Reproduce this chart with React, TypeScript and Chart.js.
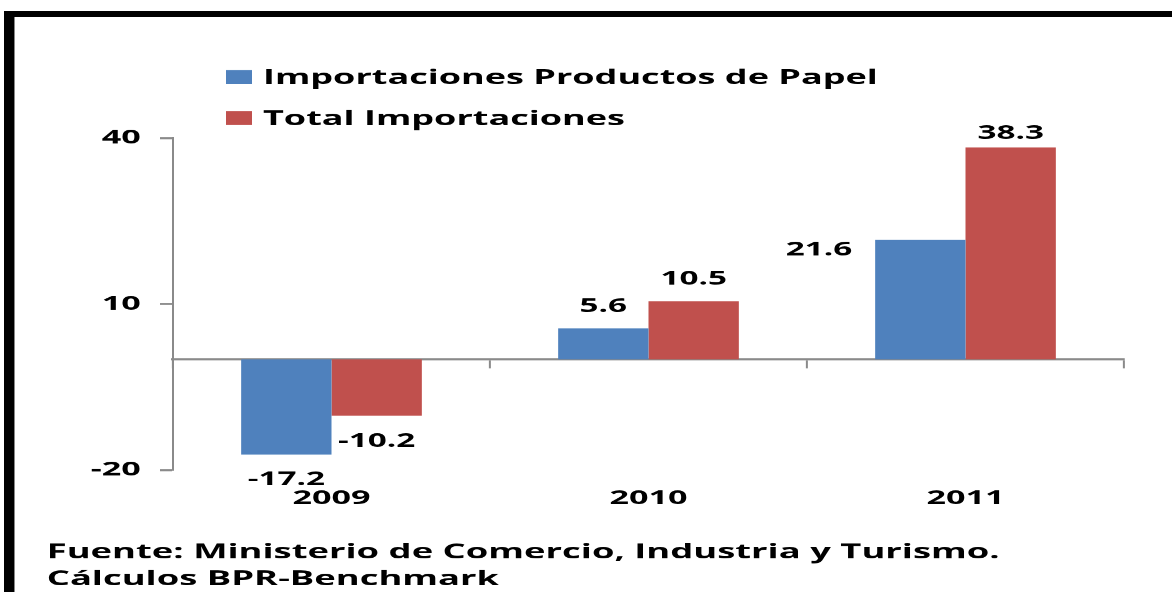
import React, { useEffect, useRef } from 'react';
import { Chart, registerables } from 'chart.js';

Chart.register(...registerables);

// ---- data ----
const categories = ['2009', '2010', '2011'];
const paperImports = [-17.2, 5.6, 21.6];
const totalImports = [-10.2, 10.5, 38.3];
const seriesNames = ['Importaciones Productos de Papel', 'Total Importaciones'];
const seriesColors = ['#4F81BD', '#C0504D'];
const yTicks = [-20, 10, 40];
const sourceLines = [
  'Fuente: Ministerio de Comercio, Industria y Turismo.',
  'Cálculos BPR-Benchmark',
];

// ---- layout (the picture is horizontally stretched) ----
const S = 1.75;
const CW = Math.round(1172 / S);
const CH = 592;
const u = (x: number) => x / S;
const FONT = "'Open Sans', sans-serif";
const GRAY = '#8a8a8a';
const PAD_LEFT = 20;
const X2_HEIGHT = 40;

const annotatePlugin = {
  id: 'annotate',
  afterDatasetsDraw(chart: any) {
    const { ctx, chartArea } = chart;
    ctx.save();
    ctx.font = `bold 19px ${FONT}`;
    ctx.fillStyle = '#000';
    ctx.textBaseline = 'middle';
    chart.data.datasets.forEach((ds: any, di: number) => {
      const meta = chart.getDatasetMeta(di);
      meta.data.forEach((el: any, i: number) => {
        const v = ds.data[i] as number;
        const txt = v.toFixed(1);
        let x = el.x;
        let y: number;
        let align: CanvasTextAlign = 'center';
        if (di === 0 && i === 2) {
          x = el.x - el.width / 2 - u(23);
          align = 'right';
          y = el.y + 10;
        } else if (v >= 0) {
          y = Math.max(el.y - 22, chartArea.top - 4.5);
        } else {
          y = el.y + 25.5;
        }
        ctx.textAlign = align;
        ctx.fillText(txt, x, y);
      });
    });
    ctx.restore();
  },
  afterDraw(chart: any) {
    const { ctx } = chart;
    ctx.save();
    // legend
    const baselines = [84, 125];
    ctx.font = `bold 20.6px ${FONT}`;
    ctx.textAlign = 'left';
    ctx.textBaseline = 'alphabetic';
    chart.data.datasets.forEach((ds: any, di: number) => {
      const b = baselines[di];
      ctx.fillStyle = ds.backgroundColor;
      ctx.fillRect(u(226), b - 14, u(26), 14);
      ctx.fillStyle = '#000';
      ctx.fillText(ds.label, u(263), b);
    });
    // source
    ctx.font = `bold 20.8px ${FONT}`;
    ctx.fillStyle = '#000';
    const sb = [558, 585];
    sourceLines.forEach((t, i) => ctx.fillText(t, u(46.7), sb[i]));
    ctx.restore();
  },
};

export default function App() {
  const ref = useRef<HTMLCanvasElement>(null);
  useEffect(() => {
    if (!ref.current) return;
    const chart = new Chart(ref.current, {
      type: 'bar',
      data: {
        labels: categories,
        datasets: [
          {
            label: seriesNames[0],
            data: paperImports,
            backgroundColor: seriesColors[0],
            xAxisID: 'x',
            yAxisID: 'y',
          },
          {
            label: seriesNames[1],
            data: totalImports,
            backgroundColor: seriesColors[1],
            xAxisID: 'x',
            yAxisID: 'y',
          },
        ],
      },
      options: {
        animation: false,
        responsive: false,
        devicePixelRatio: S,
        datasets: { bar: { categoryPercentage: 0.57, barPercentage: 1.0 } },
        layout: {
          padding: {
            left: PAD_LEFT,
            right: CW - u(1124),
            top: 138,
            bottom: CH - 470 - X2_HEIGHT,
          },
        },
        plugins: {
          legend: { display: false },
          tooltip: { enabled: false },
          title: { display: false },
        },
        scales: {
          y: {
            type: 'linear',
            position: 'left',
            min: yTicks[0],
            max: yTicks[yTicks.length - 1],
            afterBuildTicks: (scale: any) => {
              scale.ticks = yTicks.map((v) => ({ value: v }));
            },
            afterFit: (scale: any) => {
              scale.width = u(173) - PAD_LEFT;
            },
            border: { display: true, color: GRAY, width: 2 / S },
            grid: {
              display: true,
              drawOnChartArea: false,
              drawTicks: true,
              tickLength: u(13),
              tickColor: GRAY,
              tickWidth: 2,
              color: 'rgba(0,0,0,0)',
            },
            ticks: {
              padding: 11,
              color: '#000',
              font: { family: FONT, size: 19.5, weight: 'bold' },
            },
          },
          x: {
            type: 'category',
            position: { y: 0 } as any,
            offset: true,
            border: { display: true, color: GRAY, width: 2 },
            grid: {
              display: true,
              offset: true,
              drawOnChartArea: false,
              drawTicks: true,
              tickLength: 8,
              tickColor: GRAY,
              tickWidth: 2 / S,
              color: 'rgba(0,0,0,0)',
            },
            ticks: { display: false },
          },
          x2: {
            type: 'category',
            position: 'bottom',
            offset: true,
            labels: categories,
            afterFit: (scale: any) => {
              scale.height = X2_HEIGHT;
            },
            border: { display: false },
            grid: { display: false, drawTicks: false },
            ticks: {
              padding: 17,
              color: '#000',
              font: { family: FONT, size: 19.5, weight: 'bold' },
            },
          },
        },
      } as any,
      plugins: [annotatePlugin],
    });
    return () => chart.destroy();
  }, []);

  return (
    <div style={{ position: 'fixed', left: 0, top: 0, width: 1172, height: 592, background: '#fff', overflow: 'hidden' }}>
      <div
        style={{
          position: 'absolute',
          left: 0,
          top: 0,
          width: CW,
          height: CH,
          transform: `scaleX(${1172 / CW})`,
          transformOrigin: '0 0',
        }}
      >
        <canvas ref={ref} width={CW} height={CH} style={{ display: 'block', width: CW, height: CH }} />
      </div>
      <div style={{ position: 'absolute', left: 4, top: 11, width: 1168, height: 6, background: '#000' }} />
      <div style={{ position: 'absolute', left: 4, top: 11, width: 10, height: 581, background: '#000' }} />
      <div style={{ position: 'absolute', left: 14, top: 17, width: 1, height: 575, background: '#888' }} />
    </div>
  );
}
